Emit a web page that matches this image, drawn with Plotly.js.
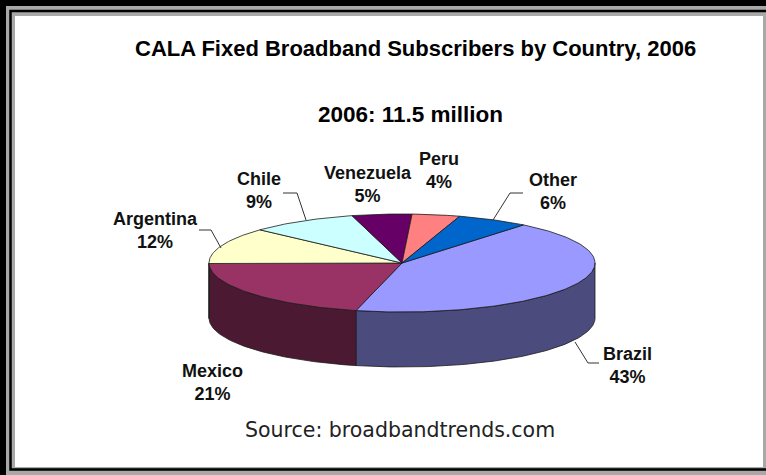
<!DOCTYPE html>
<html>
<head>
<meta charset="utf-8">
<script src="https://cdn.plot.ly/plotly-3.0.1.min.js"></script>
<style>
  html, body { margin: 0; padding: 0; background: #000; }
  #chart { width: 766px; height: 475px; }
</style>
</head>
<body>
<div id="chart"></div>
<script>
// ---- data ----
const categories = ['Brazil', 'Mexico', 'Argentina', 'Chile', 'Venezuela', 'Peru', 'Other'];
const shares = [43, 21, 12, 9, 5, 4, 6];
const chartTitle = 'CALA Fixed Broadband Subscribers by Country, 2006';
const subTitle = '2006: 11.5 million';
const sourceText = 'Source: broadbandtrends.com';

// ---- styles ----
const topColors = ['#9999FF', '#993366', '#FFFFCC', '#CCFFFF', '#660066', '#FF8080', '#0066CC'];
const sideColors = ['#4B4B7E', '#4B1A32', '#80806A', '#668080', '#330033', '#804040', '#003366'];

// ---- geometry (pixels) ----
const W = 766, H = 475;
const CX = 402, CY = 263, RX = 193, RY = 49, DEPTH = 55, START = 39;

const labelPos = {
  Brazil: [627, 365], Mexico: [212, 382], Argentina: [155, 230], Chile: [259, 190],
  Venezuela: [368, 184], Peru: [439, 170], Other: [553, 191]
};
const leaderLines = {
  Brazil: [[575, 342], [588, 363], [599, 363]],
  Argentina: [[199, 230], [211, 230], [221, 248]],
  Chile: [[283, 193], [297, 193], [306, 220]],
  Other: [[523, 193], [510, 193], [493, 220]]
};

function pt(theta, dy) {
  const r = theta * Math.PI / 180;
  return [CX + RX * Math.sin(r), CY - RY * Math.cos(r) + dy];
}
function arc(a, b, dy) {
  const pts = [];
  const n = Math.max(2, Math.ceil(Math.abs(b - a)));
  for (let k = 0; k <= n; k++) pts.push(pt(a + (b - a) * k / n, dy));
  return pts;
}

const total = shares.reduce((s, v) => s + v, 0);
let acc = START;
const slices = shares.map((v, i) => {
  const a = acc; acc += v / total * 360;
  return { a: a, b: acc, i: i };
});

const traces = [];
function poly(pts, fill) {
  traces.push({
    type: 'scatter', mode: 'lines',
    x: pts.map(p => p[0]), y: pts.map(p => p[1]),
    fill: 'toself', fillcolor: fill,
    line: { color: '#1a1a1a', width: 0.8 },
    hoverinfo: 'skip', showlegend: false
  });
}

// sides (front half only)
slices.forEach(s => {
  [[90, 270], [450, 630]].forEach(w => {
    const lo = Math.max(s.a, w[0]), hi = Math.min(s.b, w[1]);
    if (hi > lo + 0.01) {
      const pts = arc(lo, hi, 0).concat(arc(hi, lo, DEPTH));
      pts.push(pts[0]);
      poly(pts, sideColors[s.i]);
    }
  });
});
// tops
slices.forEach(s => {
  const pts = [[CX, CY]].concat(arc(s.a, s.b, 0));
  pts.push([CX, CY]);
  poly(pts, topColors[s.i]);
});

const annotations = [
  { text: chartTitle, x: 415, y: 48, font: { family: 'Liberation Sans, Arial', size: 22, color: '#000', weight: 'bold' } },
  { text: subTitle, x: 410, y: 114, font: { family: 'Liberation Sans, Arial', size: 22.5, color: '#000', weight: 'bold' } },
  { text: sourceText, x: 400, y: 430, font: { family: 'DejaVu Sans, sans-serif', size: 20.5, color: '#222' } }
];
categories.forEach((c, i) => {
  const p = labelPos[c];
  annotations.push({
    text: c + '<br>' + shares[i] + '%', x: p[0], y: p[1],
    font: { family: 'Liberation Sans, Arial', size: 18, color: '#111', weight: 'bold' }
  });
});
annotations.forEach(a => {
  a.xref = 'x'; a.yref = 'y'; a.showarrow = false; a.xanchor = 'center'; a.yanchor = 'middle';
});

const shapes = [
  { type: 'rect', x0: 6, y0: 6, x1: W + 2, y1: H + 2, fillcolor: '#a8a8a8', line: { width: 0 }, layer: 'below' },
  { type: 'rect', x0: 10.5, y0: 11, x1: W + 5, y1: 469.5, fillcolor: 'rgba(0,0,0,0)', line: { color: '#000', width: 2.5 }, layer: 'below' },
  { type: 'rect', x0: 15, y0: 16, x1: 763, y1: 467, fillcolor: '#fff', line: { width: 0 }, layer: 'below' }
];
Object.keys(leaderLines).forEach(k => {
  const pts = leaderLines[k];
  shapes.push({
    type: 'path', xref: 'x', yref: 'y',
    path: pts.map((p, j) => (j ? 'L' : 'M') + p[0] + ',' + p[1]).join(' '),
    line: { color: '#333', width: 1 }
  });
});
shapes.forEach(s => { s.xref = 'x'; s.yref = 'y'; });

const layout = {
  width: W, height: H,
  margin: { l: 0, r: 0, t: 0, b: 0 },
  paper_bgcolor: '#000', plot_bgcolor: 'rgba(0,0,0,0)',
  xaxis: { range: [0, W], visible: false, fixedrange: true },
  yaxis: { range: [H, 0], visible: false, fixedrange: true },
  showlegend: false,
  annotations: annotations,
  shapes: shapes
};

Plotly.newPlot('chart', traces, layout, { displayModeBar: false, staticPlot: true });
</script>
</body>
</html>
